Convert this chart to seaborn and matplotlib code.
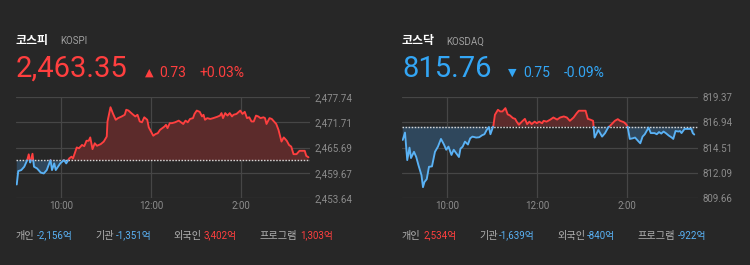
import numpy as np
import pandas as pd
import matplotlib
matplotlib.use("Agg")
import matplotlib.pyplot as plt
import seaborn as sns

# ---------------- data ----------------
kospi_min = [1, 3, 7, 11, 15, 17, 19, 22, 24, 28, 33, 37, 41, 46, 48, 51, 53, 59, 64, 67,
             71, 74, 76, 81, 84, 88, 91, 94, 97, 99, 102, 105, 108, 113, 117, 121, 122, 126, 129, 133,
             136, 141, 145, 147, 150, 155, 159, 162, 165, 168, 171, 175, 177, 180, 183, 186, 189, 192, 195, 198,
             200, 202, 205, 208, 212, 217, 220, 223, 226, 229, 232, 236, 238, 241, 245, 248, 250, 252, 255, 259,
             263, 268, 272, 274, 276, 279, 282, 285, 288, 290, 294, 299, 302, 305, 308, 311, 314, 317, 320, 323,
             326, 330, 332, 334, 338, 341, 347, 350, 354, 357, 361, 364, 367, 370, 374, 378, 383, 385, 387, 390]
kospi_val = [2456.86, 2460.06, 2460.3, 2461.1, 2462.7, 2464.06, 2462.1, 2464.2, 2461.1, 2460.7,
             2459.7, 2459.5, 2460.3, 2462.7, 2460.3, 2461.9, 2460.3, 2461.9, 2462.7, 2461.9,
             2463.1, 2463.5, 2463.1, 2465.7, 2465.5, 2466.3, 2466.0, 2467.3, 2467.3, 2468.1,
             2465.3, 2466.7, 2466.1, 2466.5, 2467.1, 2468.3, 2471.9, 2475.3, 2473.9, 2472.3,
             2472.7, 2473.1, 2473.5, 2474.7, 2474.5, 2473.7, 2473.1, 2473.5, 2471.9, 2471.7,
             2472.9, 2472.3, 2470.5, 2469.5, 2468.5, 2468.9, 2469.1, 2469.9, 2470.3, 2470.7,
             2471.1, 2470.3, 2471.5, 2471.5, 2471.7, 2472.1, 2471.7, 2471.3, 2472.1, 2471.7,
             2472.5, 2472.7, 2473.7, 2474.5, 2474.2, 2473.1, 2473.5, 2472.3, 2472.7, 2472.5,
             2472.7, 2473.0, 2473.3, 2473.9, 2472.7, 2473.9, 2473.3, 2473.9, 2473.1, 2473.5,
             2473.7, 2474.5, 2473.7, 2474.2, 2472.7, 2472.9, 2471.9, 2471.9, 2473.3, 2473.1,
             2472.7, 2472.9, 2472.7, 2471.3, 2472.7, 2472.5, 2471.3, 2469.9, 2467.1, 2468.1,
             2467.3, 2466.3, 2465.9, 2464.1, 2464.1, 2464.9, 2464.9, 2464.9, 2463.7, 2463.35]
kospi_base = 2462.62
kospi_yticks = [2453.64, 2459.67, 2465.69, 2471.71, 2477.74]

kosdaq_min = [1, 4, 7, 10, 12, 16, 19, 22, 26, 28, 30, 33, 36, 40, 44, 48, 52, 56, 59, 62,
              66, 69, 72, 76, 78, 81, 84, 88, 91, 94, 99, 103, 107, 110, 113, 116, 118, 120, 122, 124,
              128, 131, 134, 138, 141, 144, 148, 151, 153, 156, 160, 164, 167, 170, 173, 177, 180, 183, 187, 189,
              193, 198, 202, 207, 211, 216, 220, 224, 229, 233, 236, 242, 245, 248, 251, 255, 257, 260, 262, 267,
              271, 275, 278, 281, 284, 288, 291, 296, 299, 301, 304, 308, 311, 315, 318, 321, 324, 329, 332, 337,
              340, 343, 346, 349, 352, 356, 360, 362, 365, 369, 371, 373, 377, 381, 386, 388, 390]
kosdaq_val = [815.24, 815.95, 813.3, 814.5, 813.5, 814.1, 813.6, 812.8, 811.85, 810.7,
              811.2, 811.47, 812.66, 812.7, 814.1, 814.6, 815.34, 814.8, 814.3, 814.6,
              813.8, 814.3, 814.0, 813.6, 814.4, 814.6, 815.08, 814.8, 815.4, 815.56,
              815.47, 815.5, 815.7, 815.79, 816.2, 816.48, 815.79, 816.2, 816.63, 817.66,
              818.14, 817.98, 817.98, 818.3, 817.7, 817.6, 817.34, 817.27, 817.0, 816.7,
              817.0, 817.27, 816.76, 817.0, 816.76, 817.0, 816.85, 817.0, 816.85, 817.08,
              817.0, 817.2, 817.4, 817.2, 817.4, 817.5, 817.4, 817.08, 817.4, 817.8,
              818.05, 818.05, 818.05, 817.27, 817.2, 817.08, 815.47, 815.9, 816.2, 815.56,
              815.9, 816.43, 816.63, 816.85, 817.08, 817.24, 817.08, 816.95, 816.76, 816.53,
              815.34, 815.4, 815.47, 815.15, 814.92, 815.56, 815.79, 816.43, 815.9, 815.9,
              815.79, 816.0, 815.85, 816.05, 815.9, 815.66, 815.47, 815.34, 816.1, 816.05,
              816.1, 815.9, 816.3, 816.3, 816.3, 815.9, 815.76]
kosdaq_base = 816.51
kosdaq_yticks = [809.66, 812.09, 814.51, 816.94, 819.37]

xtick_min = [60, 180, 300]
xtick_labels = ["10:00", "12:00", "2:00"]

kospi_header = ["코스피", "KOSPI", "2,463.35", "▲", "0.73", "+0.03%"]
kosdaq_header = ["코스닥", "KOSDAQ", "815.76", "▼", "0.75", "-0.09%"]

flow_labels = ["개인", "기관", "외국인", "프로그램"]
kospi_flow = ["-2,156억", "-1,351억", "3,402억", "1,303억"]
kosdaq_flow = ["2,534억", "-1,639억", "-840억", "-922억"]

# ---------------- style ----------------
BG = "#272727"
RED = "#ff3f3f"
BLUE = "#5ab2f5"
RED_FILL = "#5c2b2b"
BLUE_FILL = "#2f475c"
GRID = "#464646"
TICK = "#8c8c8c"

sns.set_theme(style="dark", rc={"axes.facecolor": BG, "figure.facecolor": BG})
plt.rcParams["font.family"] = ["Roboto", "Noto Sans CJK KR", "DejaVu Sans"]

W, H = 750, 265
fig = plt.figure(figsize=(W / 100, H / 100), dpi=100)
fig.patch.set_facecolor(BG)


def with_crossings(t, v, base):
    t = np.asarray(t, float)
    v = np.asarray(v, float)
    ts, vs = [t[0]], [v[0]]
    for i in range(1, len(t)):
        a, b = v[i - 1] - base, v[i] - base
        if a * b < 0:
            f = a / (a - b)
            ts.append(t[i - 1] + f * (t[i] - t[i - 1]))
            vs.append(base)
        ts.append(t[i])
        vs.append(v[i])
    return np.array(ts), np.array(vs)


def segments(t, v, base):
    rows = []
    seg, prev = -1, None
    for i in range(len(t) - 1):
        side = "up" if (v[i] + v[i + 1]) / 2 >= base else "down"
        if side != prev:
            seg += 1
            prev = side
            rows.append((seg, side, t[i], v[i]))
        rows.append((seg, side, t[i + 1], v[i + 1]))
    return pd.DataFrame(rows, columns=["seg", "side", "t", "v"])


def draw_panel(rect, t, v, base, yticks, xmax):
    ax = fig.add_axes(rect)
    ax.set_facecolor(BG)
    tt, vv = with_crossings(t, v, base)
    ax.fill_between(tt, vv, base, where=vv >= base, interpolate=True,
                    color=RED_FILL, lw=0, zorder=1)
    ax.fill_between(tt, vv, base, where=vv <= base, interpolate=True,
                    color=BLUE_FILL, lw=0, zorder=1)
    ax.axhline(base, color="#d8d8d8", lw=1.0, ls=(0, (1.1, 1.1)), zorder=3)
    df = segments(tt, vv, base)
    for side, col in (("up", RED), ("down", BLUE)):
        sub = df[df["side"] == side]
        if len(sub):
            sns.lineplot(data=sub, x="t", y="v", units="seg", estimator=None,
                         sort=False, color=col, lw=1.35, ax=ax, zorder=4)
    ax.set_xlim(0, xmax)
    ax.set_ylim(yticks[0], yticks[-1])
    ax.set_xticks(xtick_min)
    ax.set_xticklabels(xtick_labels)
    ax.set_yticks(yticks)
    ax.set_yticklabels([f"{y:,.2f}" for y in yticks])
    ax.yaxis.tick_right()
    ax.tick_params(length=0, colors=TICK, labelsize=7)
    ax.tick_params(axis="y", pad=3.5)
    ax.tick_params(axis="x", pad=2.5)
    ax.grid(True, color=GRID, lw=0.9, zorder=0)
    ax.set_axisbelow(True)
    for s in ax.spines.values():
        s.set_visible(False)
    ax.set_xlabel("")
    ax.set_ylabel("")
    return ax


def fx(px):
    return px / W


def fy(py):
    return 1 - py / H


draw_panel([fx(16), fy(198), fx(294), 101 / H], kospi_min, kospi_val,
           kospi_base, kospi_yticks, 392)
draw_panel([fx(402), fy(198), fx(296), 101 / H], kosdaq_min, kosdaq_val,
           kosdaq_base, kosdaq_yticks, 395)


def header(x0, items, col, dx):
    name, code, big, tri, chg, pct = items
    fig.text(fx(x0), fy(40.5), name, color="white", fontsize=8.6,
             fontweight="bold", family=["Noto Sans CJK KR"], va="center")
    fig.text(fx(x0 + dx[0]), fy(41.5), code, color="#a0a0a0", fontsize=7.0,
             va="center")
    fig.text(fx(x0), fy(76.7), big, color=col, fontsize=21, va="baseline")
    fig.text(fx(x0 + dx[1]), fy(76.0), tri, color=col, fontsize=8,
             family=["DejaVu Sans"], va="baseline")
    fig.text(fx(x0 + dx[2]), fy(76.7), chg, color=col, fontsize=10,
             va="baseline")
    fig.text(fx(x0 + dx[3]), fy(76.7), pct, color=col, fontsize=10,
             va="baseline")


header(16, kospi_header, RED, [44, 129, 143, 184])
header(402, kosdaq_header, "#33a6f5", [44, 106, 121, 162])


def flows(x_labels, x_vals, values):
    for lab, xl, xv, val in zip(flow_labels, x_labels, x_vals, values):
        fig.text(fx(xl), fy(235.5), lab, color="#b0b0b0", fontsize=7.3,
                 family=["Noto Sans CJK KR"], va="center")
        c = BLUE if val.startswith("-") else RED
        fig.text(fx(xv), fy(235.5), val, color=c, fontsize=7.0,
                 family=["Roboto", "Noto Sans CJK KR"], va="center")


flows([16, 95, 173, 259], [37, 116, 204, 300], kospi_flow)
flows([402, 479, 557, 638], [424, 499, 587, 678], kosdaq_flow)

fig.savefig("out.png", dpi=100, facecolor=BG)
